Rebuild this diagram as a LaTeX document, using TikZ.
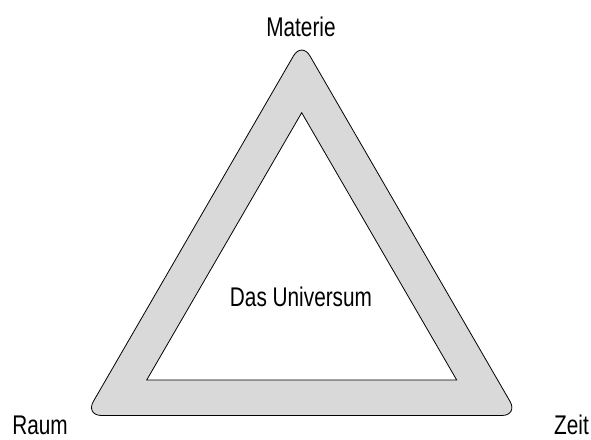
\documentclass[tikz,border=0pt]{standalone}
\usepackage{fontspec}
\setmainfont[FakeStretch=0.77]{Liberation Sans}
\begin{document}
\begin{tikzpicture}[x=1pt,y=-1pt,
  lbl/.style={anchor=base,inner sep=0pt,font=\fontsize{27}{31}\selectfont},
  ring/.style={draw=black,fill=gray!30,line width=0.8pt,rounded corners=16.5pt},
  hole/.style={draw=black,fill=white,line width=0.8pt}]
\useasboundingbox (0,0) rectangle (591,439);
\draw[ring] (301.7,415.5) -- (85.2,415.5) -- (301.7,41.7) -- (518.2,415.5) -- cycle;
\draw[hole] (301.7,112.7) -- (456.7,380) -- (146.7,380) -- cycle;
\node[lbl] (materie) at (301,36) {Materie};
\node[lbl] (raum) at (40,434) {Raum};
\node[lbl] (zeit) at (571.5,434) {Zeit};
\node[lbl] (univ) at (301,306.5) {Das Universum};
\end{tikzpicture}
\end{document}
